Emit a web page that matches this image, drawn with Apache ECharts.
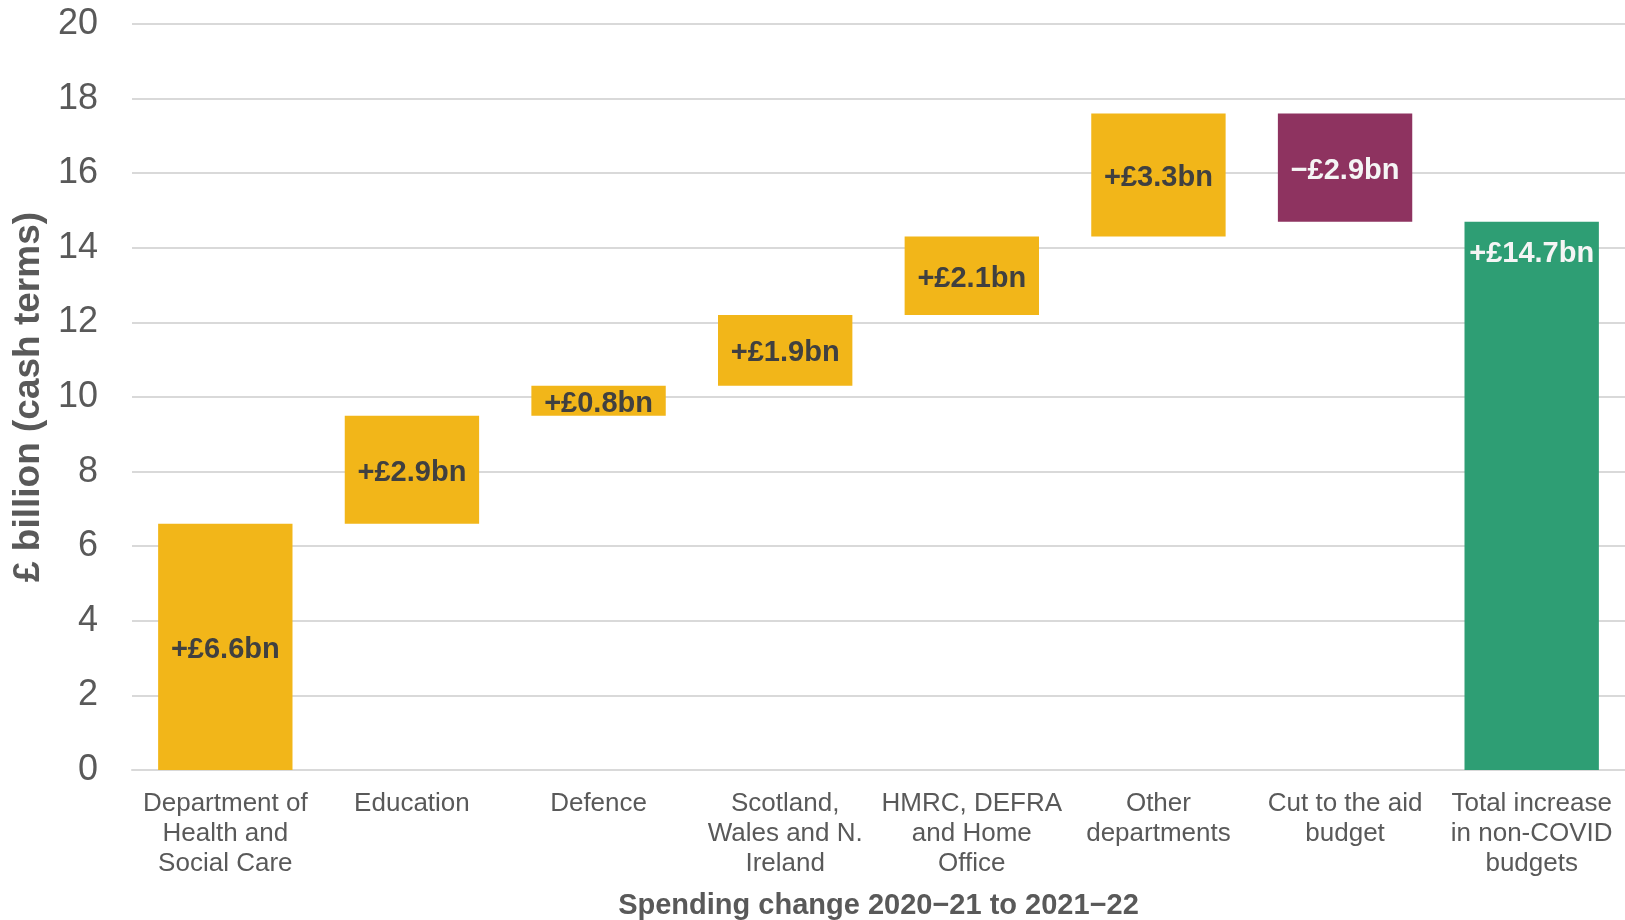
<!DOCTYPE html>
<html>
<head>
<meta charset="utf-8">
<script src="https://cdn.jsdelivr.net/npm/echarts@6/dist/echarts.min.js"></script>
<style>
html,body{margin:0;padding:0;background:#fff;}
#chart{width:1625px;height:920px;}
</style>
</head>
<body>
<div id="chart"></div>
<script>
// Data
var categories = [
  "Department of\nHealth and\nSocial Care",
  "Education",
  "Defence",
  "Scotland,\nWales and N.\nIreland",
  "HMRC, DEFRA\nand Home\nOffice",
  "Other\ndepartments",
  "Cut to the aid\nbudget",
  "Total increase\nin non-COVID\nbudgets"
];
// bottom and top of each floating bar (£ billion)
var barLow  = [0, 6.6, 9.5, 10.3, 12.2, 14.3, 14.7, 0];
var barHigh = [6.6, 9.5, 10.3, 12.2, 14.3, 17.6, 17.6, 14.7];
var changes = [6.6, 2.9, 0.8, 1.9, 2.1, 3.3, -2.9, 14.7];
var barKind = ["up", "up", "up", "up", "up", "up", "down", "total"];
var yTicks = [0, 2, 4, 6, 8, 10, 12, 14, 16, 18, 20];

var kindColor = { up: "#F2B619", down: "#8E3360", total: "#2E9E74" };
var kindLabelColor = { up: "#404040", down: "#F5F5F5", total: "#F5F5F5" };

function fmt(v) {
  return (v < 0 ? "\u2212" : "+") + "\u00A3" + Math.abs(v).toFixed(1) + "bn";
}

var baseData = barLow.slice();
var valueData = barHigh.map(function (h, i) {
  var k = barKind[i];
  return {
    value: +(h - barLow[i]).toFixed(2),
    itemStyle: { color: kindColor[k] },
    label: {
      show: true,
      position: k === "total" ? "insideTop" : "inside",
      distance: 18,
      offset: k === "total" ? [0, 0] : [0, 3],
      formatter: fmt(changes[i]),
      color: kindLabelColor[k]
    }
  };
});

var chart = echarts.init(document.getElementById("chart"), null, { renderer: "canvas" });
chart.setOption({
  animation: false,
  backgroundColor: "#ffffff",
  textStyle: { fontFamily: "Liberation Sans, Arial, sans-serif" },
  grid: { left: 132, right: 0, top: 24, bottom: 150, containLabel: false, outerBoundsMode: "none" },
  xAxis: {
    type: "category",
    data: categories,
    axisTick: { show: false },
    axisLine: { show: true, lineStyle: { color: "#D9D9D9", width: 2 } },
    axisLabel: {
      interval: 0,
      color: "#595959",
      fontSize: 26,
      lineHeight: 30,
      margin: 19,
      fontFamily: "Liberation Sans, Arial, sans-serif"
    },
    name: "Spending change 2020\u221221 to 2021\u221222",
    nameLocation: "middle",
    nameGap: 121,
    nameTextStyle: {
      color: "#595959",
      fontSize: 29,
      fontWeight: "bold",
      fontFamily: "Liberation Sans, Arial, sans-serif"
    }
  },
  yAxis: {
    type: "value",
    min: yTicks[0],
    max: yTicks[yTicks.length - 1],
    interval: 2,
    axisLine: { show: false },
    axisTick: { show: false },
    splitLine: { lineStyle: { color: "#D9D9D9", width: 2 } },
    axisLabel: {
      color: "#595959",
      fontSize: 36,
      margin: 34,
      fontFamily: "Liberation Sans, Arial, sans-serif"
    },
    name: "\u00A3 billion (cash terms)",
    nameLocation: "middle",
    nameGap: 82,
    nameTextStyle: {
      color: "#595959",
      fontSize: 37,
      fontWeight: "bold",
      fontFamily: "Liberation Sans, Arial, sans-serif"
    }
  },
  series: [
    {
      type: "bar",
      stack: "w",
      data: baseData,
      itemStyle: { color: "transparent" },
      emphasis: { disabled: true },
      silent: true,
      barCategoryGap: "28%"
    },
    {
      type: "bar",
      stack: "w",
      data: valueData,
      barCategoryGap: "28%",
      label: {
        fontSize: 29,
        fontWeight: "bold",
        fontFamily: "Liberation Sans, Arial, sans-serif"
      }
    }
  ]
});
</script>
</body>
</html>
